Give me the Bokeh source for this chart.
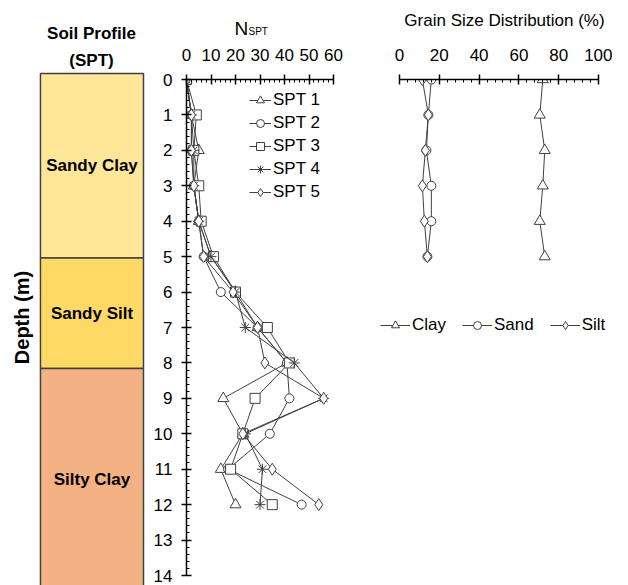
from math import pi
from bokeh.plotting import figure
from bokeh.models import (Range1d, Label, Legend, LegendItem, FixedTicker,
                          ColumnDataSource)
from bokeh.core.properties import value
from bokeh.layouts import row, column
from bokeh.embed import file_html
from bokeh.resources import INLINE

# ---------------- data ----------------
depth = [0, 1, 2, 3, 4, 5, 6, 7, 8, 9, 10, 11, 12]
spt1 = [0, 2, 5, 3, 5, 10, 20, 29, 41, 15, 23, 14, 20]
spt2 = [0, 2, 2, 3, 5, 7, 14, 29, 41, 42, 34, 17, 47]
spt3 = [0, 4, 3, 5, 6, 11, 20, 33, 42, 28, 23, 18, 35]
spt4 = [0, 2, 3, 3, 5, 10, 20, 24, 44, 56, 24, 31, 30]
spt5 = [0, 2, 2, 3, 5, 7, 19, 29, 32, 56, 23, 35, 54]
spt_names = ["SPT 1", "SPT 2", "SPT 3", "SPT 4", "SPT 5"]

grain_depth = [0, 1, 2, 3, 4, 5]
clay = [72, 70.5, 73, 72, 70.5, 73]
sand = [16, 14.5, 13.5, 16, 16, 14]
silt = [11.5, 14.5, 13, 11.5, 12.5, 14]
grain_names = ["Clay", "Sand", "Silt"]

layer_names = ["Sandy Clay", "Sandy Silt", "Silty Clay"]
layer_top = [0, 5, 8]
layer_bottom = [5, 8, 14]
layer_colors = ["#FFE699", "#FFD966", "#F4B183"]

nspt_ticks = [0, 10, 20, 30, 40, 50, 60]
grain_ticks = [0, 20, 40, 60, 80, 100]
depth_ticks = list(range(0, 15))

FONT = "Liberation Sans"
LINE = "#404040"
H = 585


def style_axis(ax):
    ax.axis_line_color = "black"
    ax.axis_line_width = 1.5
    ax.major_tick_line_color = "black"
    ax.major_tick_line_width = 1.5
    ax.minor_tick_line_color = "black"
    ax.minor_tick_line_width = 1
    ax.major_tick_in = 5
    ax.major_tick_out = 5
    ax.minor_tick_in = 3
    ax.minor_tick_out = 0
    ax.major_label_text_font = FONT
    ax.major_label_text_font_size = "17px"
    ax.major_label_text_color = "black"


def clean(p):
    p.outline_line_color = None
    p.xgrid.visible = False
    p.ygrid.visible = False
    p.background_fill_color = "white"
    p.border_fill_color = "white"


def lab(p, x, y, text, size, bold=False, align="center", baseline="middle",
        angle=0.0):
    p.add_layout(Label(x=x, y=y, x_units="screen", y_units="screen",
                       text=text, text_font=FONT,
                       text_font_style="bold" if bold else "normal",
                       text_font_size=size, text_align=align,
                       text_baseline=baseline, text_color="black",
                       angle=angle))


# ---------------- soil profile (frame covers whole figure) ----------------
p1 = figure(width=150, height=H, x_range=Range1d(-0.388, 1.068),
            y_range=Range1d(13.885, -1.98),
            output_backend="svg", toolbar_location=None,
            x_axis_location=None, y_axis_location=None,
            min_border_left=0, min_border_right=0, min_border_top=0,
            min_border_bottom=0)
clean(p1)
mids = [(a + b) / 2 for a, b in zip(layer_top, layer_bottom)]
soil_src = ColumnDataSource(dict(top=layer_top, bottom=layer_bottom,
                                 color=layer_colors, name=layer_names, mid=mids))
p1.quad(left=0, right=1, top="top", bottom="bottom", fill_color="color",
        line_color=LINE, line_width=1.5, source=soil_src)
p1.text(x=0.5, y="mid", text="name", source=soil_src,
        text_font=value(FONT), text_font_style="bold", text_font_size="17px",
        text_align="center", text_baseline="middle", text_color="black")
lab(p1, 91, 552, "Soil Profile", "17px", bold=True)
lab(p1, 91, 525, "(SPT)", "17px", bold=True)
lab(p1, 21, 268, "Depth (m)", "20px", bold=True, angle=pi / 2)

# ---------------- header with chart titles ----------------
hdr = figure(width=462, height=40, x_range=Range1d(0, 1), y_range=Range1d(0, 1),
             output_backend="svg", toolbar_location=None,
             x_axis_location=None, y_axis_location=None,
             min_border_left=0, min_border_right=0, min_border_top=0,
             min_border_bottom=0)
clean(hdr)
lab(hdr, 84, 12, "N", "19px", align="left", baseline="alphabetic")
lab(hdr, 98, 9, "SPT", "10px", align="left", baseline="alphabetic")
lab(hdr, 354, 20, "Grain Size Distribution (%)", "17px")

# ---------------- NSPT ----------------
yr = Range1d(14, 0)
p2 = figure(width=195, height=H - 40, x_range=Range1d(0, 60), y_range=yr,
            output_backend="svg", toolbar_location=None,
            x_axis_location="above",
            min_border_left=34, min_border_right=12, min_border_top=39,
            min_border_bottom=10)
clean(p2)
p2.xaxis.ticker = FixedTicker(ticks=nspt_ticks,
                              minor_ticks=[i * 2 for i in range(31)])
p2.yaxis.ticker = FixedTicker(ticks=depth_ticks,
                              minor_ticks=[i * 0.2 for i in range(71)])
style_axis(p2.xaxis[0])
style_axis(p2.yaxis[0])
p2.xaxis.major_label_standoff = 14
p2.yaxis.major_label_standoff = 9

markers = ["triangle", "circle", "square", "asterisk", "diamond"]
sizes = [11, 9, 10, 11, 12]
items = []
for name, vals, mk, sz in zip(spt_names, [spt1, spt2, spt3, spt4, spt5], markers, sizes):
    ln = p2.line(vals, depth, line_color=LINE, line_width=1)
    sc = p2.scatter(vals, depth, marker=mk, size=sz, fill_color="white",
                    line_color=LINE, line_width=1)
    items.append(LegendItem(label=name, renderers=[ln, sc]))
leg = Legend(items=items, location=(63, 373), orientation="vertical",
             glyph_width=22, glyph_height=20, label_height=20,
             label_standoff=2, spacing=3, padding=0, margin=0,
             border_line_color=None, background_fill_alpha=0,
             label_text_font=FONT, label_text_font_size="17px",
             label_text_color="black")
p2.add_layout(leg)

# ---------------- grain size ----------------
p3 = figure(width=267, height=H - 40, x_range=Range1d(-13.57, 107.04), y_range=yr,
            output_backend="svg", toolbar_location=None,
            x_axis_location="above", y_axis_location=None,
            min_border_left=27, min_border_right=0, min_border_top=39,
            min_border_bottom=10)
clean(p3)
p3.xaxis.ticker = FixedTicker(ticks=grain_ticks,
                              minor_ticks=[i * 4 for i in range(26)])
p3.xaxis.bounds = (0, 100)
style_axis(p3.xaxis[0])
p3.xaxis.major_label_standoff = 14

gitems = []
for name, vals, mk, sz in zip(grain_names, [clay, sand, silt],
                              ["triangle", "circle", "diamond"], [11, 9, 12]):
    ln = p3.line(vals, grain_depth, line_color=LINE, line_width=1)
    sc = p3.scatter(vals, grain_depth, marker=mk, size=sz, fill_color="white",
                    line_color=LINE, line_width=1)
    gitems.append(LegendItem(label=name, renderers=[ln, sc]))
gleg = Legend(items=gitems, location=(8, 240), orientation="horizontal",
              glyph_width=30, glyph_height=20, label_height=20,
              label_standoff=2, spacing=16, padding=0, margin=0,
              border_line_color=None, background_fill_alpha=0,
              label_text_font=FONT, label_text_font_size="17px",
              label_text_color="black")
p3.add_layout(gleg)

layout = row(p1, column(hdr, row(p2, p3)))
open("out.html", "w").write(file_html(layout, INLINE))
